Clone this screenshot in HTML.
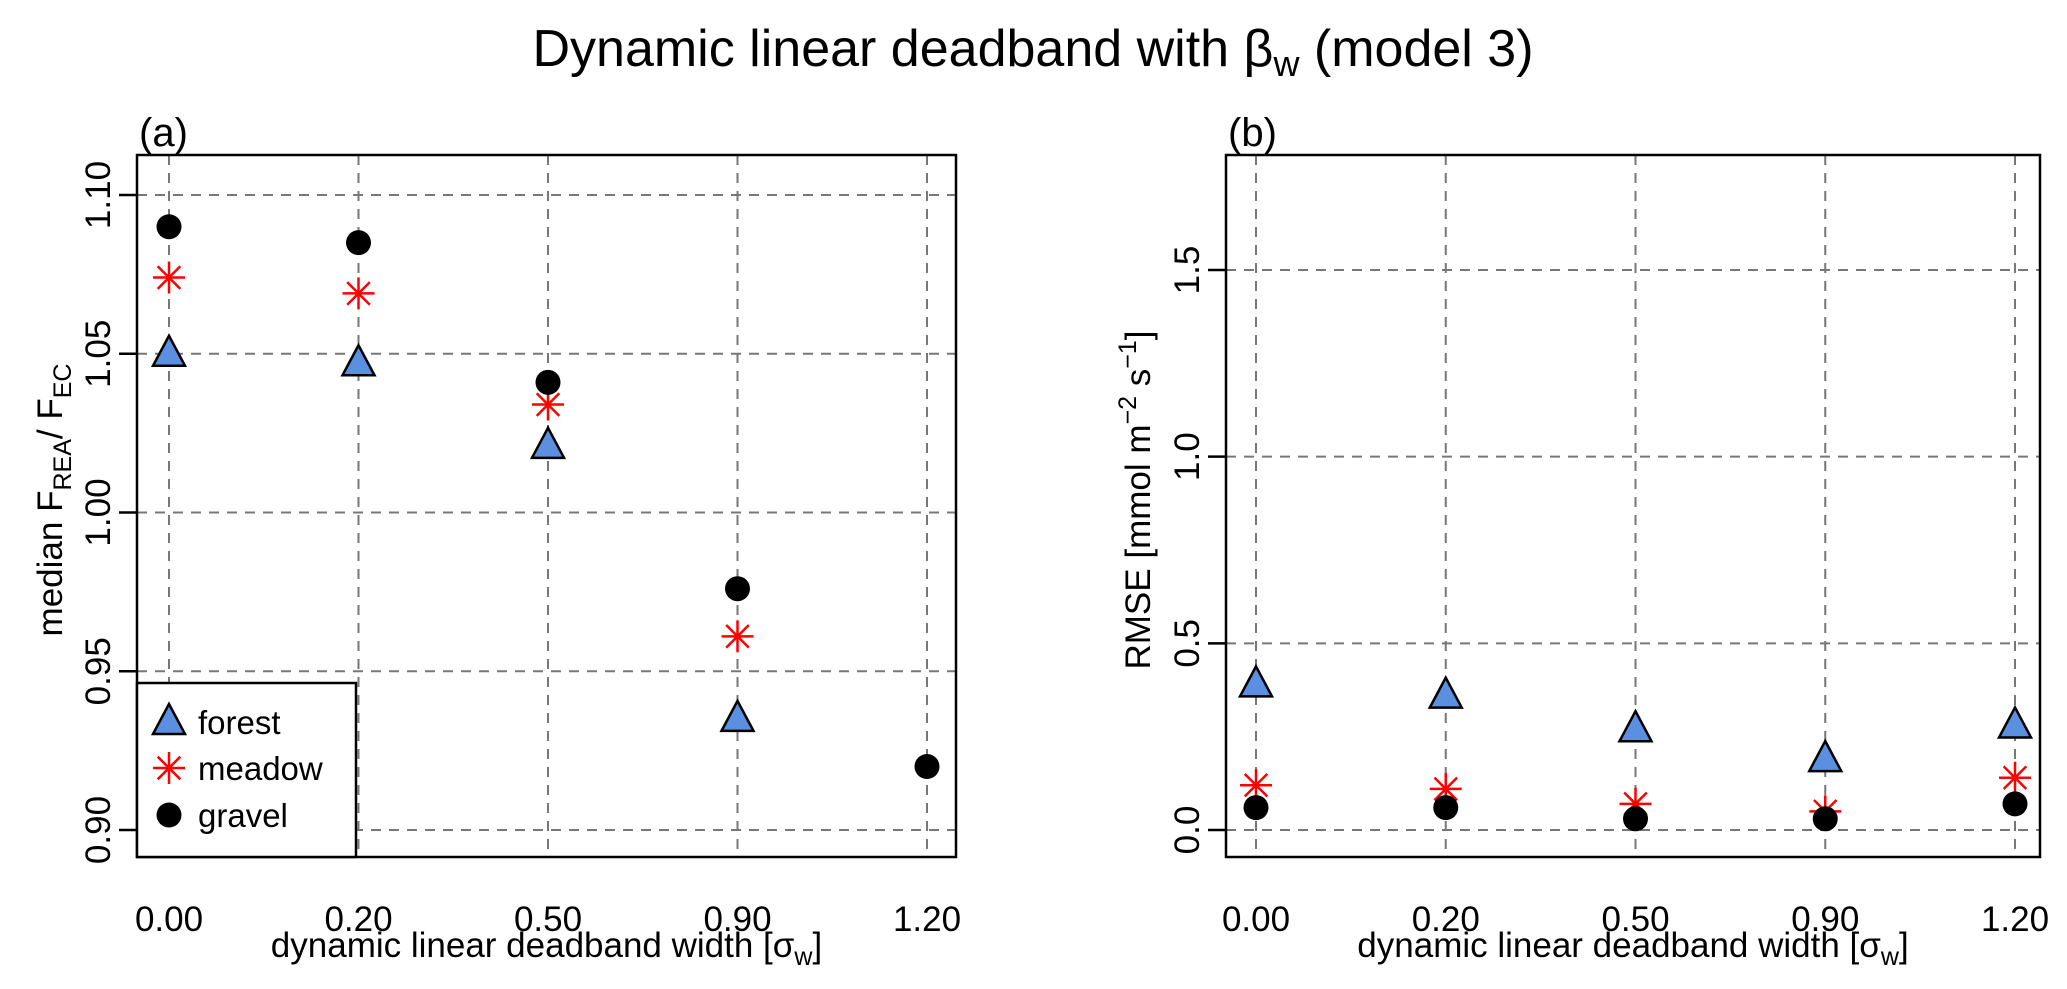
<!DOCTYPE html>
<html><head><meta charset="utf-8"><style>
html,body{margin:0;padding:0;background:#fff}
svg{display:block;font-family:"Liberation Sans",Arial,sans-serif}
</style></head><body>
<svg id="fig" width="2067" height="989" viewBox="0 0 2067 989">
<text x="1033" y="66" font-size="52" text-anchor="middle">Dynamic linear deadband with β<tspan font-size="36" dy="10">w</tspan><tspan dy="-10"> (model 3)</tspan></text>
</svg>
<script>
const categories = ["0.00","0.20","0.50","0.90","1.20"];
const ratioForest = [1.050, 1.047, 1.021, 0.935, null];
const ratioMeadow = [1.074, 1.069, 1.034, 0.961, null];
const ratioGravel = [1.090, 1.085, 1.041, 0.976, 0.920];
const ratioTicks = [0.90, 0.95, 1.00, 1.05, 1.10];
const rmseForest = [0.39, 0.36, 0.27, 0.19, 0.28];
const rmseMeadow = [0.12, 0.11, 0.07, 0.05, 0.14];
const rmseGravel = [0.06, 0.06, 0.03, 0.03, 0.07];
const rmseTicks = [0.0, 0.5, 1.0, 1.5];

const NS = "http://www.w3.org/2000/svg";
const svg = document.getElementById("fig");
function mk(tag, attrs, parent){const e=document.createElementNS(NS,tag);for(const k in attrs)e.setAttribute(k,attrs[k]);(parent||svg).appendChild(e);return e;}

const TOP=155, BOT=857;
function panel(opt){
  const g = mk("g",{});
  
  
  const L=opt.box[0],R=opt.box[1],T=TOP,B=BOT;
  const xs = i => opt.x0 + i*(opt.x1-opt.x0)/(categories.length-1);
  const ys = v => opt.yA + (v-opt.vA)*(opt.yB-opt.yA)/(opt.vB-opt.vA);
  categories.forEach((c,i)=>{
    const l=mk("line",{x1:xs(i),x2:xs(i),y1:T,y2:B,stroke:"#777","stroke-width":2,"stroke-dasharray":"10,8"},g);
    
    
    const t=mk("text",{x:xs(i),y:931,"font-size":35,"text-anchor":"middle"},g);t.textContent=c;
    
    
  });
  opt.ticks.forEach(v=>{
    const y=ys(v);
    const l=mk("line",{x1:L,x2:R,y1:y,y2:y,stroke:"#777","stroke-width":2,"stroke-dasharray":"10,8"},g);
    
    
    const tk=mk("line",{x1:L-18,x2:L,y1:y,y2:y,stroke:"#000","stroke-width":2.5},g);
    
    
    const t=mk("text",{x:0,y:0,"font-size":35,"text-anchor":"middle",transform:`translate(${L-27},${y}) rotate(-90)`},g);
    t.textContent=v.toFixed(opt.dec);
    
    
  });
  const box=mk("rect",{x:L,y:T,width:R-L,height:B-T,fill:"none",stroke:"#000","stroke-width":2.5},g);
  
  
  function tri(x,y){return mk("polygon",{points:`${x},${y-18} ${x-16},${y+12} ${x+16},${y+12}`,fill:"#5b8fdf",stroke:"#000","stroke-width":2.5},g);}
  function star(x,y){const s=mk("g",{stroke:"#f00","stroke-width":2.5},g);const r=16;
    [0,45,90,135].forEach(a=>{const q=a*Math.PI/180;mk("line",{x1:x-r*Math.cos(q),y1:y-r*Math.sin(q),x2:x+r*Math.cos(q),y2:y+r*Math.sin(q)},s);});return s;}
  function dot(x,y){return mk("circle",{cx:x,cy:y,r:12.5,fill:"#000"},g);}
  const xt=mk("text",{x:(L+R)/2,y:957,"font-size":35,"text-anchor":"middle"},g);
  xt.innerHTML='dynamic linear deadband width [σ<tspan font-size="25" dy="8">w</tspan><tspan dy="-8">]</tspan>';
  
  
  const lab=mk("text",{x:L+2,y:146,"font-size":40},g);lab.textContent=opt.label;
  
  
  return {g,tri,star,dot};
}
const pA = panel({name:"panel-a",box:[137,956],x0:169,x1:927,yA:830,vA:0.90,yB:195,vB:1.10,ticks:ratioTicks,dec:2,label:"(a)"});
const pB = panel({name:"panel-b",box:[1226,2040],x0:1256,x1:2015,yA:830,vA:0.0,yB:270,vB:1.5,ticks:rmseTicks,dec:1,label:"(b)"});
function plot(p,xa,xb,yA,vA,yB,vB,data,kind,name){
  data.forEach((v,i)=>{
    if(v===null) return;
    const x=xa+i*(xb-xa)/(categories.length-1);
    const y=yA+(v-vA)*(yB-yA)/(vB-vA);
    const m=p[kind](x,y);
    
    
  });
}
plot(pA,169,927,830,0.90,195,1.10,ratioForest,"tri","forest-point");
plot(pA,169,927,830,0.90,195,1.10,ratioMeadow,"star","meadow-point");
plot(pA,169,927,830,0.90,195,1.10,ratioGravel,"dot","gravel-point");
plot(pB,1256,2015,830,0.0,270,1.5,rmseForest,"tri","forest-point");
plot(pB,1256,2015,830,0.0,270,1.5,rmseMeadow,"star","meadow-point");
plot(pB,1256,2015,830,0.0,270,1.5,rmseGravel,"dot","gravel-point");
const ya=mk("text",{x:0,y:0,"font-size":35,"text-anchor":"middle",transform:"translate(62,500) rotate(-90)"});
ya.innerHTML='median F<tspan font-size="25" dy="9">REA</tspan><tspan dy="-9">/ F</tspan><tspan font-size="25" dy="9">EC</tspan>';


const yb=mk("text",{x:0,y:0,"font-size":35,"text-anchor":"middle",transform:"translate(1150,500) rotate(-90)"});
yb.innerHTML='RMSE [mmol m<tspan font-size="25" dy="-14">−2</tspan><tspan dy="14"> s</tspan><tspan font-size="25" dy="-14">−1</tspan><tspan dy="14">]</tspan>';


const lg=mk("g",{});


mk("rect",{x:137,y:683,width:219,height:174,fill:"#fff",stroke:"#000","stroke-width":2.5},lg);
const names=["forest","meadow","gravel"],kinds=["tri","star","dot"],ly=[722,768,815];
names.forEach((n,i)=>{
  const m=pA[kinds[i]](169,ly[i]); lg.appendChild(m);
  
  
  const t=mk("text",{x:198,y:ly[i]+12,"font-size":33},lg);t.textContent=n;
  
  
});
</script>
</body></html>
